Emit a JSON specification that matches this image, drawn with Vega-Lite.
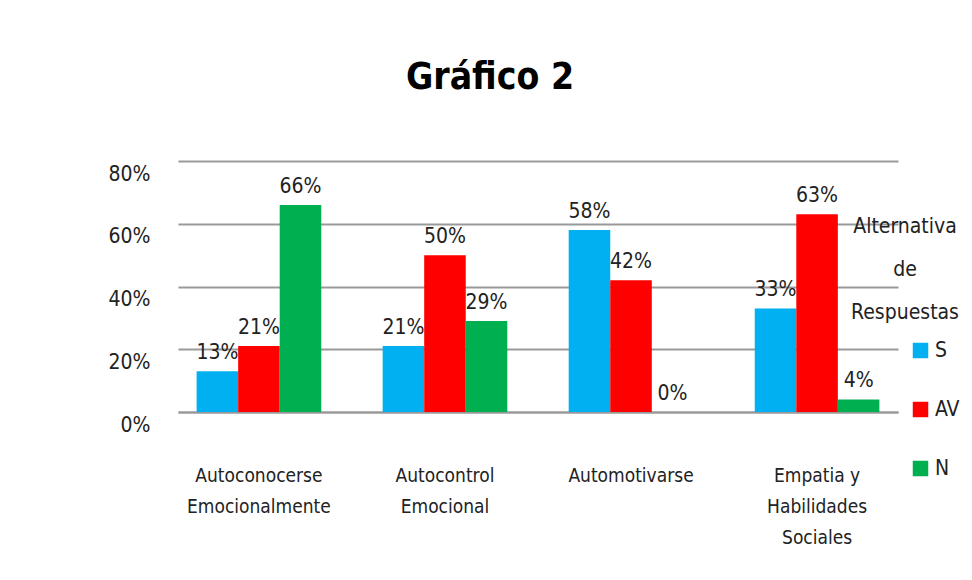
{
  "$schema": "https://vega.github.io/schema/vega-lite/v6.json",
  "autosize": "none",
  "width": 720,
  "height": 251,
  "padding": {"left": 178, "top": 161, "right": 74, "bottom": 168},
  "background": "white",
  "config": {
    "font": "DejaVu Sans Condensed, Roboto, sans-serif",
    "view": {"stroke": null}
  },
  "title": {
    "text": "Gráfico 2",
    "fontSize": 37,
    "fontWeight": "bold",
    "font": "DejaVu Sans Condensed, Roboto, sans-serif",
    "color": "black",
    "anchor": "middle",
    "dx": -48,
    "offset": 64
  },
  "data": {
    "values": [
      {"cat": "Autoconocerse Emocionalmente", "alt": "S", "v": 0.13},
      {"cat": "Autoconocerse Emocionalmente", "alt": "AV", "v": 0.21},
      {"cat": "Autoconocerse Emocionalmente", "alt": "N", "v": 0.66},
      {"cat": "Autocontrol Emocional", "alt": "S", "v": 0.21},
      {"cat": "Autocontrol Emocional", "alt": "AV", "v": 0.50},
      {"cat": "Autocontrol Emocional", "alt": "N", "v": 0.29},
      {"cat": "Automotivarse", "alt": "S", "v": 0.58},
      {"cat": "Automotivarse", "alt": "AV", "v": 0.42},
      {"cat": "Automotivarse", "alt": "N", "v": 0.0},
      {"cat": "Empatia y Habilidades Sociales", "alt": "S", "v": 0.33},
      {"cat": "Empatia y Habilidades Sociales", "alt": "AV", "v": 0.63},
      {"cat": "Empatia y Habilidades Sociales", "alt": "N", "v": 0.04}
    ]
  },
  "encoding": {
    "x": {
      "field": "cat",
      "type": "nominal",
      "sort": null,
      "title": null,
      "scale": {"paddingInner": 0.33, "paddingOuter": 0.1},
      "axis": {
        "labelAngle": 0,
        "labelFontSize": 19,
        "labelColor": "#222",
        "labelPadding": 54,
        "labelLineHeight": 31,
        "ticks": false,
        "domainColor": "#999",
        "domainWidth": 2,
        "labelExpr": "datum.value == 'Empatia y Habilidades Sociales' ? ['Empatia y','Habilidades','Sociales'] : split(datum.value, ' ')"
      }
    },
    "xOffset": {"field": "alt", "type": "nominal", "sort": ["S", "AV", "N"]},
    "y": {
      "field": "v",
      "type": "quantitative",
      "title": null,
      "scale": {"domain": [0, 0.8]},
      "axis": {
        "format": ".0%",
        "values": [0, 0.2, 0.4, 0.6, 0.8],
        "labelFontSize": 21,
        "labelColor": "#222",
        "labelPadding": 28,
        "labelOffset": 13,
        "ticks": false,
        "domain": false,
        "grid": true,
        "gridColor": "#999",
        "gridWidth": 2
      }
    }
  },
  "layer": [
    {
      "mark": {"type": "bar"},
      "encoding": {
        "color": {
          "field": "alt",
          "type": "nominal",
          "sort": ["S", "AV", "N"],
          "scale": {"domain": ["S", "AV", "N"], "range": ["#00B0F0", "#FF0000", "#00B050"]},
          "legend": {
            "title": ["Alternativa", "de", "Respuestas"],
            "titleFontSize": 21,
            "titleFontWeight": "normal",
            "titleColor": "#222",
            "titleAlign": "center",
            "titleAnchor": "middle",
            "titleLineHeight": 43,
            "titlePadding": 17,
            "orient": "none",
            "legendX": 672,
            "legendY": 55,
            "symbolType": "square",
            "symbolSize": 240,
            "symbolStrokeWidth": 0,
            "symbolOffset": 60,
            "labelFontSize": 21,
            "labelColor": "#222",
            "labelOffset": 4,
            "rowPadding": 37
          }
        }
      }
    },
    {
      "mark": {"type": "text", "baseline": "bottom", "dy": -8, "fontSize": 21, "color": "#222"},
      "encoding": {
        "text": {"field": "v", "type": "quantitative", "format": ".0%"}
      }
    }
  ]
}
